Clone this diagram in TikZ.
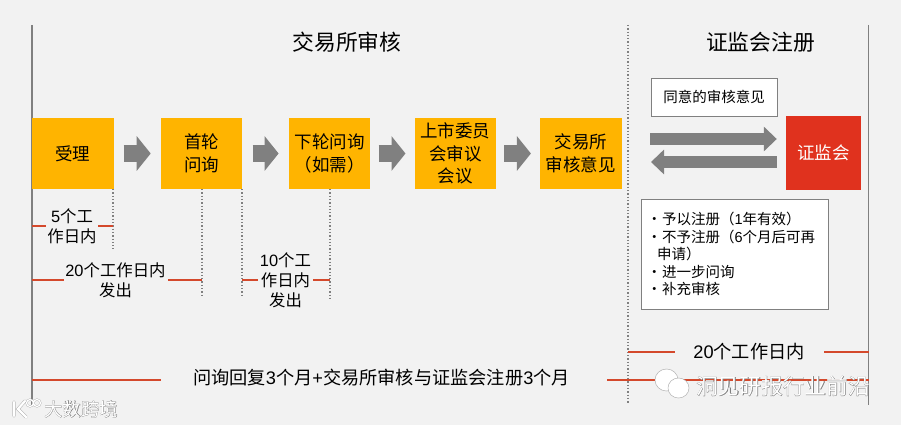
\documentclass[tikz,border=0pt]{standalone}
\usepackage{fontspec}
\setmainfont{Noto Sans CJK SC}
\newfontfamily\arialfont{Liberation Sans}
\newfontfamily\shadefont[FakeBold=1.6]{Noto Sans CJK SC}
\newcommand{\ar}[1]{{\arialfont #1}}
\newcommand{\li}{\makebox[15pt][l]{•}}
\usepackage{xcolor}
\usetikzlibrary{positioning,arrows.meta}
\definecolor{boxyellow}{HTML}{FFB400}
\definecolor{cscred}{HTML}{E0321E}
\definecolor{periodred}{HTML}{D4492C}
\definecolor{pagegray}{HTML}{F2F2F2}
\definecolor{axisgray}{HTML}{808080}
\tikzset{
  stepbox/.style={fill=boxyellow,minimum width=81.5pt,minimum height=71pt,inner sep=0pt,
    align=center,font=\fontsize{17.5}{22.5}\selectfont},
  whitebox/.style={draw=axisgray,line width=0.8pt,fill=white,inner sep=0pt,align=left},
  grayarrow/.style={axisgray,line width=17pt,-{Triangle[length=14pt,width=34pt]},
    shorten <=10pt,shorten >=10pt},
  widearrow/.style={axisgray,line width=12pt,-{Triangle[length=13pt,width=24pt]}},
  axis/.style={axisgray,line width=1.6pt},
  tick/.style={axisgray,line width=1.3pt,dotted},
  period/.style={periodred,line width=1.4pt},
  daylabel/.style={align=center,inner sep=0pt,font=\fontsize{16.4}{20}\selectfont},
  title/.style={inner sep=0pt,font=\fontsize{21.8}{26}\selectfont},
  wmark/.style={white,inner sep=0pt},
  wshade/.style={black!50,inner sep=0pt},
}
\begin{document}
\begin{tikzpicture}[x=1pt,y=-1pt]
\fill[pagegray] (0,0) rectangle (901,425);
\useasboundingbox (0,0) rectangle (901,425);
% frame lines
\coordinate (lefttop) at (32,25);
\coordinate (leftend) at (32,405);
\coordinate (midtop) at (628,25);
\coordinate (midend) at (628,403);
\coordinate (righttop) at (868.5,25);
\coordinate (rightend) at (868.5,405);
\draw[axis] (lefttop)--(leftend);
\draw[axis] (righttop)--(rightend);
\draw[tick] (midtop)--(midend);
\node[title] (szse) at (347,42) {交易所审核};
\node[title] (cscreg) at (760.5,42) {证监会注册};
% steps
\node[stepbox] (accept) at (72.75,153.5) {受理};
\node[stepbox,right=47pt of accept] (firstq) {首轮\\问询};
\node[stepbox,right=46pt of firstq] (nextq) {下轮问询\\（如需）};
\node[stepbox,right=44pt of nextq] (listing) {上市委员\\会审议\\会议};
\node[stepbox,right=43.5pt of listing] (opinion) {交易所\\审核意见};
\draw[grayarrow] (accept)--(firstq);
\draw[grayarrow] (firstq)--(nextq);
\draw[grayarrow,shorten <=8pt,shorten >=9pt] (nextq)--(listing);
\draw[grayarrow,shorten <=8pt,shorten >=9pt] (listing)--(opinion);
% csrc side
\node[fill=cscred,text=white,minimum width=75pt,minimum height=74pt,inner sep=0pt,
  font=\fontsize{17.5}{22}\selectfont] (csrc) at (823.5,153) {证监会};
\node[whitebox,minimum width=126pt,minimum height=38pt,align=center,
  font=\fontsize{14.5}{18}\selectfont] (agree) at (714,97) {同意的审核意见};
\coordinate (goout) at (650,139);
\coordinate (goback) at (651,162);
\draw[widearrow,shorten >=9pt] (goout)--(csrc.west |- goout);
\draw[widearrow,shorten <=9pt] (csrc.west |- goback)--(goback);
\node[whitebox,minimum width=187pt,minimum height=110pt,text width=175pt,
  font=\fontsize{14.5}{17.5}\selectfont] (result) at (734.5,254) {%
  \li 予以注册（\ar{1}年有效）\\
  \li 不予注册（\ar{6}个月后可再\\
  \hspace*{10pt}申请）\\
  \li 进一步问询\\
  \li 补充审核};
% time limits
\coordinate (tickA) at (113,189);
\coordinate (tickAend) at (113,249);
\coordinate (tickB) at (202,189);
\coordinate (tickBend) at (202,295);
\coordinate (tickC) at (242,189);
\coordinate (tickCend) at (242,295);
\coordinate (tickD) at (330,189);
\coordinate (tickDend) at (330,298);
\draw[tick] (tickA)--(tickAend);
\draw[tick] (tickB)--(tickBend);
\draw[tick] (tickC)--(tickCend);
\draw[tick] (tickD)--(tickDend);
\node[daylabel] (five) at (72,226) {\ar{5}个工\\作日内};
\node[daylabel] (twenty) at (115.5,280) {\ar{20}个工作日内\\发出};
\node[daylabel] (ten) at (285.5,280) {\ar{10}个工\\作日内\\发出};
\node[inner sep=0pt,font=\fontsize{18.2}{20}\selectfont] (csrcdays) at (749,352) {\ar{20}个工作日内};
\node[inner sep=0pt,font=\fontsize{18.2}{20}\selectfont] (total) at (381.5,378)
  {问询回复\ar{3}个月\ar{+}交易所审核与证监会注册\ar{3}个月};
\draw[period] (lefttop |- five.west)--++(14,0);
\draw[period] (tickA |- five.west)--++(-15,0);
\draw[period] (lefttop |- twenty.west)--++(32,0);
\draw[period] (tickB |- twenty.west)--++(-34,0);
\draw[period] (tickC |- ten.west)--++(16,0);
\draw[period] (tickD |- ten.west)--++(-17,0);
\draw[period] (midtop |- csrcdays.west)--++(47,0);
\draw[period] (righttop |- csrcdays.west)--++(-45,0);
\coordinate (totalline) at (0,380);
\draw[period] (lefttop |- totalline)--++(129,0);
\draw[period] (righttop |- totalline)--++(-262,0);
% watermarks
\fill[white,draw=black!30,line width=0.5pt] (666.5,380) ellipse (11.5pt and 11pt);
\fill[white,draw=black!30,line width=0.5pt] (678.5,388) ellipse (10.5pt and 10pt);
\node[wshade,font=\fontsize{21.7}{26}\shadefont] (wechatshade) at (783,386) {洞见研报行业前沿};
\node[wmark,font=\fontsize{21.7}{26}\selectfont] (wechat) at (783,386) {洞见研报行业前沿};
\draw[black!30,double=white,double distance=2.2pt,line width=0.5pt,line cap=round]
  (14,402)--(14,416) (25,401)--(18,409)--(26,417);
\draw[black!30,double=white,double distance=1.2pt,line width=0.4pt] (30,403) circle (3.5pt) (37,403) circle (3.5pt);
\node[wshade,font=\fontsize{18.4}{22}\shadefont] (bigdatashade) at (81,409) {大数跨境};
\node[wmark,font=\fontsize{18.4}{22}\selectfont] (bigdata) at (81,409) {大数跨境};
\end{tikzpicture}
\end{document}
